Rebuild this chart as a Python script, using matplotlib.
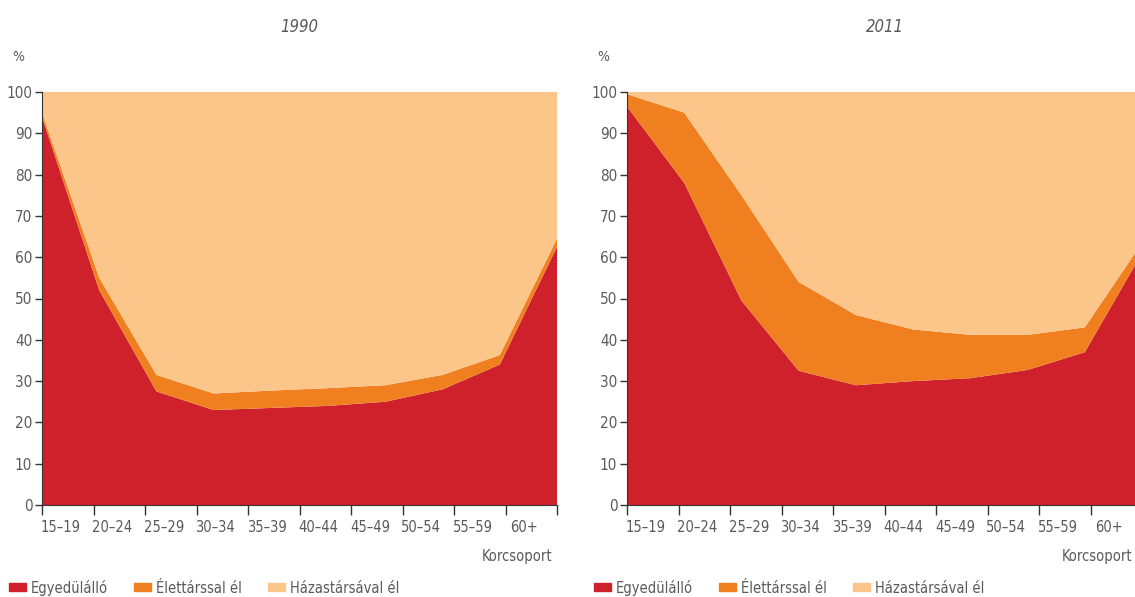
import numpy as np
import matplotlib.pyplot as plt
from matplotlib.patches import Rectangle

plt.rcParams['font.family'] = ['DejaVu Sans']
plt.rcParams['font.stretch'] = 'condensed'

# Adatok
korcsoport = ["15–19", "20–24", "25–29", "30–34", "35–39", "40–44",
              "45–49", "50–54", "55–59", "60+"]
kategoriak = ["Egyedülálló", "Élettárssal él", "Házastársával él"]

egyed_1990 = [94, 52, 27.5, 23, 23.5, 24, 25, 28, 34, 62.5]
elet_1990 = [1, 3, 4, 4, 4.2, 4.3, 4, 3.5, 2.3, 2]
haz_1990 = [5, 45, 68.5, 73, 72.3, 71.7, 71, 68.5, 63.7, 35.5]

egyed_2011 = [96.5, 78, 49.5, 32.5, 29, 30, 30.7, 32.7, 37, 61]
elet_2011 = [3, 17, 25.5, 21.5, 17, 12.5, 10.5, 8.5, 6, 2.5]
haz_2011 = [0.5, 5, 25, 46, 54, 57.5, 58.8, 58.8, 57, 36.5]

szinek = ["#cf212c", "#f0801f", "#fcc589"]
szurke = "#5a5a5a"

fig = plt.figure(figsize=(11.35, 5.97), dpi=100)

panelek = [
    ("1990", [egyed_1990, elet_1990, haz_1990], 42, 0.99),
    ("2011", [egyed_2011, elet_2011, haz_2011], 627, 0.982),
]

for cim, sorok, bal, kx in panelek:
    ax = fig.add_axes([bal / 1135, 1 - 505 / 597, 515 / 1135, 413 / 597])
    x = np.arange(len(korcsoport))
    ax.stackplot(x, *sorok, colors=szinek, linewidth=0)
    ax.set_xlim(0, len(korcsoport) - 1)
    ax.set_ylim(0, 100)

    hatarok = np.linspace(0, len(korcsoport) - 1, len(korcsoport) + 1)
    ax.set_xticks(hatarok)
    ax.set_xticklabels([])
    ax.set_xticks((hatarok[:-1] + hatarok[1:]) / 2 - 0.12, minor=True)
    ax.set_xticklabels(korcsoport, minor=True, fontsize=10.5, color=szurke)
    ax.tick_params(axis="x", which="major", direction="out", length=7,
                   width=1, color="#333333")
    ax.tick_params(axis="x", which="minor", length=0, pad=11)

    ax.set_yticks(range(0, 101, 10))
    ax.tick_params(axis="y", direction="out", length=5, width=1,
                   color="#333333", labelsize=11, labelcolor=szurke, pad=2)

    for s in ["top", "right"]:
        ax.spines[s].set_visible(False)
    ax.spines["left"].set_color("#333333")
    ax.spines["bottom"].set_color("#333333")

    ax.text(0.5, 1.145, cim, transform=ax.transAxes, ha="center",
            fontsize=12, style="italic", color=szurke)
    ax.text(-0.047, 1.075, "%", transform=ax.transAxes, ha="center",
            fontsize=10, color=szurke)
    ax.text(kx, -0.135, "Korcsoport", transform=ax.transAxes, ha="right",
            fontsize=10.5, color=szurke)

    jel = [Rectangle((0, 0), 1, 1, color=c) for c in szinek]
    ax.legend(jel, kategoriak, loc="center left", bbox_to_anchor=(-0.065, -0.2),
              ncol=3, frameon=False, fontsize=10.5, handlelength=1.2,
              handleheight=0.45, handletextpad=0.3, columnspacing=1.8,
              labelcolor=szurke, borderaxespad=0, borderpad=0)

fig.savefig("out.png", dpi=100)
